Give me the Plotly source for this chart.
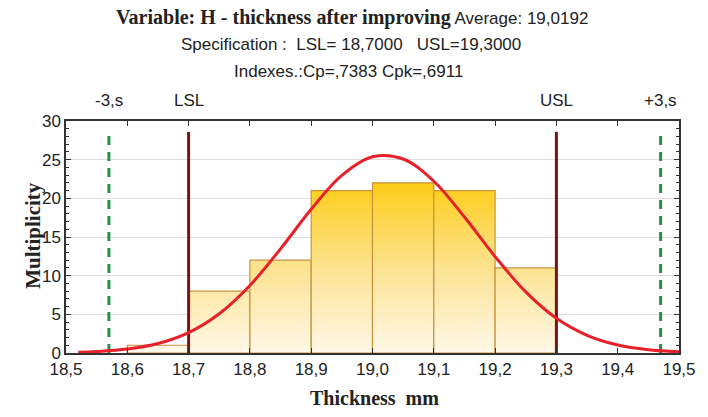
import plotly.graph_objects as go

# ---- data ----
bin_edges = [18.6, 18.7, 18.8, 18.9, 19.0, 19.1, 19.2, 19.3]
counts = [1, 8, 12, 21, 22, 21, 11]

curve_x = [18.52, 18.55, 18.60, 18.65, 18.70, 18.75, 18.80, 18.85, 18.90, 18.95,
           19.00, 19.05, 19.10, 19.15, 19.20, 19.25, 19.30, 19.35, 19.40, 19.45, 19.50]
curve_y = [0.10, 0.19, 0.51, 1.22, 2.63, 5.07, 8.73, 13.47, 18.59, 22.96,
           25.37, 25.09, 22.21, 17.58, 12.46, 7.90, 4.48, 2.28, 1.03, 0.42, 0.15]

lsl, usl = 18.70, 19.30
minus3s, plus3s = 18.57, 19.47
ref_top = 28.6

x_ticks = [18.5, 18.6, 18.7, 18.8, 18.9, 19.0, 19.1, 19.2, 19.3, 19.4, 19.5]
y_ticks = [0, 5, 10, 15, 20, 25, 30]

SANS = "Liberation Sans, Arial, sans-serif"
SERIF = "Liberation Serif, Times New Roman, serif"

# page is offset by the 8px default body margin
OFF = 8
W, H = 708 - OFF, 417 - 2 * OFF
ML, MT = 66 - OFF, 121 - OFF
MR = W - (690 - OFF)
MB = H - (353 - OFF)
PW, PH = W - ML - MR, H - MT - MB


def px_x(px):
    return (px - OFF - ML) / PW


def px_y(py):
    return (H - MB - (py - OFF)) / PH


fig = go.Figure()

# histogram bars with vertical gradient
for i, c in enumerate(counts):
    x0, x1 = bin_edges[i], bin_edges[i + 1]
    fig.add_trace(go.Scatter(
        x=[x0, x0, x1, x1, x0], y=[0, c, c, 0, 0],
        mode="lines", fill="toself",
        line=dict(color="#C8933C", width=1.2),
        fillgradient=dict(type="vertical", start=0, stop=22,
                          colorscale=[[0, "#FFF8E8"], [0.5, "#FCE391"], [1, "#FDCD17"]]),
        hoverinfo="skip", showlegend=False,
    ))

# reference lines
for xv, col, dash in [(minus3s, "#2E8B45", "9px,7px"), (plus3s, "#2E8B45", "9px,7px"),
                      (lsl, "#7A1414", "solid"), (usl, "#7A1414", "solid")]:
    fig.add_trace(go.Scatter(
        x=[xv, xv], y=[0, ref_top], mode="lines",
        line=dict(color=col, width=3, dash=dash),
        hoverinfo="skip", showlegend=False,
    ))

# normal curve
fig.add_trace(go.Scatter(
    x=curve_x, y=curve_y, mode="lines", line=dict(color="#E8202A", width=3, shape="spline"),
    hoverinfo="skip", showlegend=False,
))

annotations = [
    dict(text='<span style="font-family:Liberation Serif"><b>Variable: H - thickness after improving</b></span>'
              '<span style="font-size:17px"> Average: 19,0192</span>',
         font=dict(family=SANS, size=20, color="#222"), px=357, py=17),
    dict(text="Specification :  LSL= 18,7000   USL=19,3000",
         font=dict(family=SANS, size=17, color="#222"), px=356, py=44),
    dict(text="Indexes.:Cp=,7383 Cpk=,6911",
         font=dict(family=SANS, size=17, color="#222"), px=354, py=72),
]
for a in annotations:
    py = a.pop("py")
    pxx = a.pop("px")
    a.update(x=px_x(pxx), xref="paper", y=px_y(py), yref="paper", yanchor="middle",
             xanchor="center", showarrow=False)

for lab, xv in [("-3,s", minus3s), ("LSL", lsl), ("USL", usl), ("+3,s", plus3s)]:
    annotations.append(dict(text=lab, x=xv, xref="x", y=px_y(100), yref="paper",
                            yanchor="middle", showarrow=False,
                            font=dict(family=SANS, size=17, color="#222")))

annotations.append(dict(text="<b>Thickness  mm</b>", x=px_x(380), xref="paper", y=px_y(398), yref="paper",
                        yanchor="middle", showarrow=False, font=dict(family=SERIF, size=20, color="#222")))
annotations.append(dict(text="<b>Multiplicity</b>", x=px_x(18), xref="paper", y=px_y(235), yref="paper",
                        textangle=-90, showarrow=False, font=dict(family=SERIF, size=21, color="#222")))

fig.update_layout(
    width=W, height=H,
    margin=dict(l=ML, r=MR, t=MT, b=MB),
    paper_bgcolor="white", plot_bgcolor="white",
    separators=", ",
    annotations=annotations,
    font=dict(family=SANS, size=17, color="#222"),
    xaxis=dict(range=[18.5, 19.5], tickvals=x_ticks, ticktext=[f"{v:.1f}".replace(".", ",") for v in x_ticks],
               showgrid=False, zeroline=False, showline=True, linecolor="#333", linewidth=1.5,
               mirror="allticks", ticks="inside", ticklen=5, tickcolor="#333",
               tickfont=dict(family=SANS, size=17, color="#222")),
    yaxis=dict(range=[0, 30], tickvals=y_ticks, showgrid=True, gridcolor="#DDDDDD", gridwidth=1,
               zeroline=False, showline=True, linecolor="#333", linewidth=1.5,
               mirror="allticks", ticks="inside", ticklen=5, tickcolor="#333",
               minor=dict(dtick=1, ticks="inside", ticklen=3, tickcolor="#333", showgrid=False),
               tickfont=dict(family=SANS, size=17, color="#222")),
)

fig.write_html("out.html", config={"displayModeBar": False})
